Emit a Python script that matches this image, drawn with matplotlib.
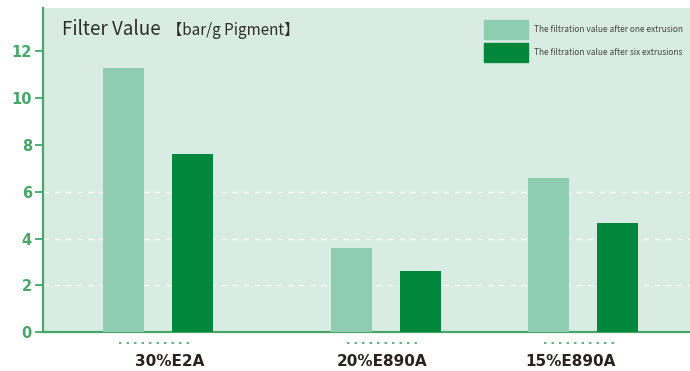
import numpy as np
import matplotlib.pyplot as plt
from matplotlib.patches import Patch

# Filter values [bar/g pigment] for each masterbatch
categories = ["30%E2A", "20%E890A", "15%E890A"]
one_extrusion = [11.3, 3.6, 6.6]
six_extrusions = [7.6, 2.6, 4.65]
series_names = ["The filtration value after one extrusion",
                "The filtration value after six extrusions"]
yticks = [0, 2, 4, 6, 8, 10, 12]

# group centres (groups are not evenly spaced)
xpos = np.array([0.0, 1.0, 1.864])
label_shift = np.array([0.053, -0.018, -0.053])
width = 0.18
offset = 0.151

light = "#8fcdb0"
dark = "#00873c"
axis_green = "#4aa56a"
bg = "#d8ece3"

plt.rcParams['font.family'] = ['Noto Sans CJK SC', 'DejaVu Sans']

fig = plt.figure(figsize=(6.9, 3.71), dpi=100)
ax = fig.add_axes([0.0623, 0.105, 0.9377, 0.873])
ax.set_facecolor(bg)

ax.bar(xpos - offset, one_extrusion, width, color=light, zorder=3)
ax.bar(xpos + offset, six_extrusions, width, color=dark, zorder=3)

# white dashed guide lines
for v in [2, 4, 6]:
    ax.axhline(v, color="white", lw=1.0, ls=(0, (4, 4)), alpha=0.8, zorder=1)

ax.set_xlim(-0.504, 2.333)
ax.set_ylim(0, 13.85)
ax.set_yticks(yticks)
ax.set_yticklabels([str(t) for t in yticks], color=axis_green,
                   fontweight="bold", fontsize=10.5, family="DejaVu Sans")
ax.tick_params(axis="y", length=6, width=1.3, color=axis_green, pad=2)
ax.set_xticks(xpos + label_shift)
ax.set_xticklabels(categories, fontweight="bold", fontsize=11,
                   color="#2a2222", family="DejaVu Sans")
ax.tick_params(axis="x", length=0, pad=16)

for side in ["top", "right"]:
    ax.spines[side].set_visible(False)
ax.spines["left"].set_color(axis_green)
ax.spines["left"].set_linewidth(1.6)
ax.spines["bottom"].set_color(axis_green)
ax.spines["bottom"].set_linewidth(1.6)

# dotted marks under each group
for x in xpos:
    ax.plot([x - 0.17, x + 0.15], [-0.45, -0.45], color=axis_green,
            lw=1.2, ls=(0, (1.5, 3)), clip_on=False, zorder=2)

# title inside the plot
ax.text(0.029, 0.935, "Filter Value", transform=ax.transAxes,
        fontsize=13.5, color="#2e2e2e", va="center", ha="left")
ax.text(0.192, 0.93, "【bar/g Pigment】", transform=ax.transAxes,
        fontsize=11, color="#2e2e2e", va="center", ha="left")

handles = [Patch(color=light), Patch(color=dark)]
leg = ax.legend(handles, series_names, loc="upper right",
                bbox_to_anchor=(1.0, 0.986), frameon=False, fontsize=6,
                handlelength=5.3, handleheight=3.13, labelspacing=0.48,
                handletextpad=0.7, labelcolor="#444444")

fig.savefig("out.png", dpi=100, facecolor="white")
